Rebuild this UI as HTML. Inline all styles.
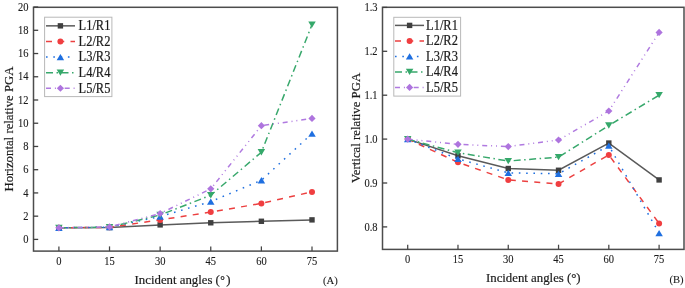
<!DOCTYPE html>
<html><head><meta charset="utf-8"><style>
html,body{margin:0;padding:0;background:#fff;}
svg{display:block;will-change:transform;}
text{font-family:"Liberation Serif",serif;fill:#1a1a1a;stroke:#1a1a1a;stroke-width:0.18px;}
.tk{font-size:10.5px;stroke-width:0.1px;}
.tk2{font-size:10.6px;stroke-width:0.1px;}
.lg{font-size:12.45px;}
.tt{font-size:12.8px;}
</style></head><body>
<svg width="685" height="288" viewBox="0 0 685 288">
<rect x="33.5" y="7.3" width="303.9" height="243.79999999999998" fill="none" stroke="#4c4c4c" stroke-width="1.5"/>
<line x1="58.90" y1="251.1" x2="58.90" y2="246.4" stroke="#444" stroke-width="1.25"/>
<text transform="translate(58.90,265.00) scale(1,1.1)" class="tk" text-anchor="middle">0</text>
<line x1="109.52" y1="251.1" x2="109.52" y2="246.4" stroke="#444" stroke-width="1.25"/>
<text transform="translate(109.52,265.00) scale(1,1.1)" class="tk" text-anchor="middle">15</text>
<line x1="160.14" y1="251.1" x2="160.14" y2="246.4" stroke="#444" stroke-width="1.25"/>
<text transform="translate(160.14,265.00) scale(1,1.1)" class="tk" text-anchor="middle">30</text>
<line x1="210.76" y1="251.1" x2="210.76" y2="246.4" stroke="#444" stroke-width="1.25"/>
<text transform="translate(210.76,265.00) scale(1,1.1)" class="tk" text-anchor="middle">45</text>
<line x1="261.38" y1="251.1" x2="261.38" y2="246.4" stroke="#444" stroke-width="1.25"/>
<text transform="translate(261.38,265.00) scale(1,1.1)" class="tk" text-anchor="middle">60</text>
<line x1="312.00" y1="251.1" x2="312.00" y2="246.4" stroke="#444" stroke-width="1.25"/>
<text transform="translate(312.00,265.00) scale(1,1.1)" class="tk" text-anchor="middle">75</text>
<line x1="33.5" y1="239.40" x2="38.2" y2="239.40" stroke="#404040" stroke-width="1.3"/>
<text transform="translate(28.50,243.00) scale(1,1.1)" class="tk" text-anchor="end">0</text>
<line x1="33.5" y1="216.17" x2="38.2" y2="216.17" stroke="#404040" stroke-width="1.3"/>
<text transform="translate(28.50,219.77) scale(1,1.1)" class="tk" text-anchor="end">2</text>
<line x1="33.5" y1="192.93" x2="38.2" y2="192.93" stroke="#404040" stroke-width="1.3"/>
<text transform="translate(28.50,196.53) scale(1,1.1)" class="tk" text-anchor="end">4</text>
<line x1="33.5" y1="169.70" x2="38.2" y2="169.70" stroke="#404040" stroke-width="1.3"/>
<text transform="translate(28.50,173.30) scale(1,1.1)" class="tk" text-anchor="end">6</text>
<line x1="33.5" y1="146.46" x2="38.2" y2="146.46" stroke="#404040" stroke-width="1.3"/>
<text transform="translate(28.50,150.06) scale(1,1.1)" class="tk" text-anchor="end">8</text>
<line x1="33.5" y1="123.23" x2="38.2" y2="123.23" stroke="#404040" stroke-width="1.3"/>
<text transform="translate(28.50,126.83) scale(1,1.1)" class="tk" text-anchor="end">10</text>
<line x1="33.5" y1="100.00" x2="38.2" y2="100.00" stroke="#404040" stroke-width="1.3"/>
<text transform="translate(28.50,103.60) scale(1,1.1)" class="tk" text-anchor="end">12</text>
<line x1="33.5" y1="76.76" x2="38.2" y2="76.76" stroke="#404040" stroke-width="1.3"/>
<text transform="translate(28.50,80.36) scale(1,1.1)" class="tk" text-anchor="end">14</text>
<line x1="33.5" y1="53.53" x2="38.2" y2="53.53" stroke="#404040" stroke-width="1.3"/>
<text transform="translate(28.50,57.13) scale(1,1.1)" class="tk" text-anchor="end">16</text>
<line x1="33.5" y1="30.29" x2="38.2" y2="30.29" stroke="#404040" stroke-width="1.3"/>
<text transform="translate(28.50,33.89) scale(1,1.1)" class="tk" text-anchor="end">18</text>
<line x1="33.5" y1="7.06" x2="38.2" y2="7.06" stroke="#404040" stroke-width="1.3"/>
<text transform="translate(28.50,10.66) scale(1,1.1)" class="tk" text-anchor="end">20</text>
<polyline points="58.90,227.78 109.52,227.55 160.14,224.88 210.76,222.79 261.38,221.28 312.00,219.88" fill="none" stroke="#5a5a5a" stroke-width="1.5"/>
<rect x="56.20" y="225.08" width="5.4" height="5.4" fill="#404040"/>
<rect x="106.82" y="224.85" width="5.4" height="5.4" fill="#404040"/>
<rect x="157.44" y="222.18" width="5.4" height="5.4" fill="#404040"/>
<rect x="208.06" y="220.09" width="5.4" height="5.4" fill="#404040"/>
<rect x="258.68" y="218.58" width="5.4" height="5.4" fill="#404040"/>
<rect x="309.30" y="217.18" width="5.4" height="5.4" fill="#404040"/>
<polyline points="58.90,227.78 109.52,227.32 160.14,219.88 210.76,212.10 261.38,203.39 312.00,191.89" fill="none" stroke="#ec4040" stroke-width="1.5" stroke-dasharray="6 6.25"/>
<circle cx="58.90" cy="227.78" r="3.0" fill="#f03e40"/>
<circle cx="109.52" cy="227.32" r="3.0" fill="#f03e40"/>
<circle cx="160.14" cy="219.88" r="3.0" fill="#f03e40"/>
<circle cx="210.76" cy="212.10" r="3.0" fill="#f03e40"/>
<circle cx="261.38" cy="203.39" r="3.0" fill="#f03e40"/>
<circle cx="312.00" cy="191.89" r="3.0" fill="#f03e40"/>
<polyline points="58.90,227.78 109.52,227.20 160.14,216.51 210.76,201.64 261.38,180.27 312.00,133.57" fill="none" stroke="#2070e0" stroke-width="1.5" stroke-dasharray="1.6 5.7"/>
<polygon points="58.90,224.63 62.65,230.93 55.15,230.93" fill="#1f6fe0"/>
<polygon points="109.52,224.05 113.27,230.35 105.77,230.35" fill="#1f6fe0"/>
<polygon points="160.14,213.36 163.89,219.66 156.39,219.66" fill="#1f6fe0"/>
<polygon points="210.76,198.49 214.51,204.79 207.01,204.79" fill="#1f6fe0"/>
<polygon points="261.38,177.12 265.13,183.42 257.63,183.42" fill="#1f6fe0"/>
<polygon points="312.00,130.42 315.75,136.72 308.25,136.72" fill="#1f6fe0"/>
<polyline points="58.90,227.78 109.52,227.20 160.14,215.00 210.76,195.26 261.38,152.27 312.00,24.72" fill="none" stroke="#38a86c" stroke-width="1.5" stroke-dasharray="7 3.5 1.5 3.5"/>
<polygon points="55.15,224.63 62.65,224.63 58.90,230.93" fill="#35a86a"/>
<polygon points="105.77,224.05 113.27,224.05 109.52,230.35" fill="#35a86a"/>
<polygon points="156.39,211.85 163.89,211.85 160.14,218.15" fill="#35a86a"/>
<polygon points="207.01,192.11 214.51,192.11 210.76,198.41" fill="#35a86a"/>
<polygon points="257.63,149.12 265.13,149.12 261.38,155.42" fill="#35a86a"/>
<polygon points="308.25,21.57 315.75,21.57 312.00,27.87" fill="#35a86a"/>
<polyline points="58.90,227.78 109.52,226.97 160.14,213.49 210.76,188.87 261.38,125.67 312.00,118.47" fill="none" stroke="#b07ae0" stroke-width="1.5" stroke-dasharray="5 3.9 1 3.9 1 3.9"/>
<polygon points="58.90,224.18 62.50,227.78 58.90,231.38 55.30,227.78" fill="#ae74de"/>
<polygon points="109.52,223.37 113.12,226.97 109.52,230.57 105.92,226.97" fill="#ae74de"/>
<polygon points="160.14,209.89 163.74,213.49 160.14,217.09 156.54,213.49" fill="#ae74de"/>
<polygon points="210.76,185.27 214.36,188.87 210.76,192.47 207.16,188.87" fill="#ae74de"/>
<polygon points="261.38,122.07 264.98,125.67 261.38,129.27 257.78,125.67" fill="#ae74de"/>
<polygon points="312.00,114.87 315.60,118.47 312.00,122.07 308.40,118.47" fill="#ae74de"/>
<rect x="44.6" y="17.2" width="67.30000000000001" height="79.39999999999999" fill="#fff" stroke="#b8b8b8" stroke-width="1"/>
<line x1="46" y1="25.85" x2="75" y2="25.85" stroke="#5a5a5a" stroke-width="1.5"/>
<rect x="57.70" y="23.15" width="5.4" height="5.4" fill="#404040"/>
<text transform="translate(78.60,30.15) scale(1,1.12)" class="lg">L1/R1</text>
<line x1="46" y1="41.45" x2="75" y2="41.45" stroke="#ec4040" stroke-width="1.5" stroke-dasharray="6 6.25"/>
<circle cx="60.40" cy="41.45" r="3.0" fill="#f03e40"/>
<text transform="translate(78.60,45.75) scale(1,1.12)" class="lg">L2/R2</text>
<line x1="46" y1="57.05" x2="75" y2="57.05" stroke="#2070e0" stroke-width="1.5" stroke-dasharray="1.6 5.7"/>
<polygon points="60.40,53.90 64.15,60.20 56.65,60.20" fill="#1f6fe0"/>
<text transform="translate(78.60,61.35) scale(1,1.12)" class="lg">L3/R3</text>
<line x1="46" y1="72.65" x2="75" y2="72.65" stroke="#38a86c" stroke-width="1.5" stroke-dasharray="7 3.5 1.5 3.5"/>
<polygon points="56.65,69.50 64.15,69.50 60.40,75.80" fill="#35a86a"/>
<text transform="translate(78.60,76.95) scale(1,1.12)" class="lg">L4/R4</text>
<line x1="46" y1="88.25" x2="75" y2="88.25" stroke="#b07ae0" stroke-width="1.5" stroke-dasharray="5 3.9 1 3.9 1 3.9"/>
<polygon points="60.40,84.65 64.00,88.25 60.40,91.85 56.80,88.25" fill="#ae74de"/>
<text transform="translate(78.60,92.55) scale(1,1.12)" class="lg">L5/R5</text>
<rect x="382.5" y="7.3" width="301.5" height="242.1" fill="none" stroke="#4c4c4c" stroke-width="1.5"/>
<line x1="407.70" y1="249.4" x2="407.70" y2="244.70000000000002" stroke="#444" stroke-width="1.25"/>
<text transform="translate(407.70,263.00) scale(1,1.1)" class="tk" text-anchor="middle">0</text>
<line x1="457.98" y1="249.4" x2="457.98" y2="244.70000000000002" stroke="#444" stroke-width="1.25"/>
<text transform="translate(457.98,263.00) scale(1,1.1)" class="tk" text-anchor="middle">15</text>
<line x1="508.26" y1="249.4" x2="508.26" y2="244.70000000000002" stroke="#444" stroke-width="1.25"/>
<text transform="translate(508.26,263.00) scale(1,1.1)" class="tk" text-anchor="middle">30</text>
<line x1="558.54" y1="249.4" x2="558.54" y2="244.70000000000002" stroke="#444" stroke-width="1.25"/>
<text transform="translate(558.54,263.00) scale(1,1.1)" class="tk" text-anchor="middle">45</text>
<line x1="608.82" y1="249.4" x2="608.82" y2="244.70000000000002" stroke="#444" stroke-width="1.25"/>
<text transform="translate(608.82,263.00) scale(1,1.1)" class="tk" text-anchor="middle">60</text>
<line x1="659.10" y1="249.4" x2="659.10" y2="244.70000000000002" stroke="#444" stroke-width="1.25"/>
<text transform="translate(659.10,263.00) scale(1,1.1)" class="tk" text-anchor="middle">75</text>
<line x1="382.5" y1="226.90" x2="387.2" y2="226.90" stroke="#404040" stroke-width="1.3"/>
<text transform="translate(377.50,230.50) scale(1,1.1)" class="tk" text-anchor="end">0.8</text>
<line x1="382.5" y1="183.00" x2="387.2" y2="183.00" stroke="#404040" stroke-width="1.3"/>
<text transform="translate(377.50,186.60) scale(1,1.1)" class="tk" text-anchor="end">0.9</text>
<line x1="382.5" y1="139.10" x2="387.2" y2="139.10" stroke="#404040" stroke-width="1.3"/>
<text transform="translate(377.50,142.70) scale(1,1.1)" class="tk" text-anchor="end">1.0</text>
<line x1="382.5" y1="95.20" x2="387.2" y2="95.20" stroke="#404040" stroke-width="1.3"/>
<text transform="translate(377.50,98.80) scale(1,1.1)" class="tk" text-anchor="end">1.1</text>
<line x1="382.5" y1="51.30" x2="387.2" y2="51.30" stroke="#404040" stroke-width="1.3"/>
<text transform="translate(377.50,54.90) scale(1,1.1)" class="tk" text-anchor="end">1.2</text>
<line x1="382.5" y1="7.40" x2="387.2" y2="7.40" stroke="#404040" stroke-width="1.3"/>
<text transform="translate(377.50,11.00) scale(1,1.1)" class="tk" text-anchor="end">1.3</text>
<polyline points="407.70,139.10 457.98,155.78 508.26,168.51 558.54,170.27 608.82,143.05 659.10,179.93" fill="none" stroke="#5a5a5a" stroke-width="1.5"/>
<rect x="405.00" y="136.40" width="5.4" height="5.4" fill="#404040"/>
<rect x="455.28" y="153.08" width="5.4" height="5.4" fill="#404040"/>
<rect x="505.56" y="165.81" width="5.4" height="5.4" fill="#404040"/>
<rect x="555.84" y="167.57" width="5.4" height="5.4" fill="#404040"/>
<rect x="606.12" y="140.35" width="5.4" height="5.4" fill="#404040"/>
<rect x="656.40" y="177.23" width="5.4" height="5.4" fill="#404040"/>
<polyline points="407.70,139.10 457.98,162.37 508.26,179.93 558.54,183.88 608.82,154.90 659.10,223.39" fill="none" stroke="#ec4040" stroke-width="1.5" stroke-dasharray="6 6.25"/>
<circle cx="407.70" cy="139.10" r="3.0" fill="#f03e40"/>
<circle cx="457.98" cy="162.37" r="3.0" fill="#f03e40"/>
<circle cx="508.26" cy="179.93" r="3.0" fill="#f03e40"/>
<circle cx="558.54" cy="183.88" r="3.0" fill="#f03e40"/>
<circle cx="608.82" cy="154.90" r="3.0" fill="#f03e40"/>
<circle cx="659.10" cy="223.39" r="3.0" fill="#f03e40"/>
<polyline points="407.70,139.10 457.98,158.86 508.26,172.90 558.54,173.78 608.82,145.69 659.10,233.05" fill="none" stroke="#2070e0" stroke-width="1.5" stroke-dasharray="1.6 5.7"/>
<polygon points="407.70,135.95 411.45,142.25 403.95,142.25" fill="#1f6fe0"/>
<polygon points="457.98,155.71 461.73,162.01 454.23,162.01" fill="#1f6fe0"/>
<polygon points="508.26,169.75 512.01,176.05 504.51,176.05" fill="#1f6fe0"/>
<polygon points="558.54,170.63 562.29,176.93 554.79,176.93" fill="#1f6fe0"/>
<polygon points="608.82,142.54 612.57,148.84 605.07,148.84" fill="#1f6fe0"/>
<polygon points="659.10,229.90 662.85,236.20 655.35,236.20" fill="#1f6fe0"/>
<polyline points="407.70,139.10 457.98,152.71 508.26,161.05 558.54,157.10 608.82,125.49 659.10,95.20" fill="none" stroke="#38a86c" stroke-width="1.5" stroke-dasharray="7 3.5 1.5 3.5"/>
<polygon points="403.95,135.95 411.45,135.95 407.70,142.25" fill="#35a86a"/>
<polygon points="454.23,149.56 461.73,149.56 457.98,155.86" fill="#35a86a"/>
<polygon points="504.51,157.90 512.01,157.90 508.26,164.20" fill="#35a86a"/>
<polygon points="554.79,153.95 562.29,153.95 558.54,160.25" fill="#35a86a"/>
<polygon points="605.07,122.34 612.57,122.34 608.82,128.64" fill="#35a86a"/>
<polygon points="655.35,92.05 662.85,92.05 659.10,98.35" fill="#35a86a"/>
<polyline points="407.70,139.10 457.98,144.37 508.26,146.56 558.54,139.98 608.82,111.00 659.10,32.42" fill="none" stroke="#b07ae0" stroke-width="1.5" stroke-dasharray="5 3.9 1 3.9 1 3.9"/>
<polygon points="407.70,135.50 411.30,139.10 407.70,142.70 404.10,139.10" fill="#ae74de"/>
<polygon points="457.98,140.77 461.58,144.37 457.98,147.97 454.38,144.37" fill="#ae74de"/>
<polygon points="508.26,142.96 511.86,146.56 508.26,150.16 504.66,146.56" fill="#ae74de"/>
<polygon points="558.54,136.38 562.14,139.98 558.54,143.58 554.94,139.98" fill="#ae74de"/>
<polygon points="608.82,107.40 612.42,111.00 608.82,114.60 605.22,111.00" fill="#ae74de"/>
<polygon points="659.10,28.82 662.70,32.42 659.10,36.02 655.50,32.42" fill="#ae74de"/>
<rect x="393.8" y="17.3" width="66.80000000000001" height="78.8" fill="#fff" stroke="#b8b8b8" stroke-width="1"/>
<line x1="395" y1="25.40" x2="424" y2="25.40" stroke="#5a5a5a" stroke-width="1.5"/>
<rect x="406.90" y="22.70" width="5.4" height="5.4" fill="#404040"/>
<text transform="translate(426.10,29.70) scale(1,1.12)" class="lg">L1/R1</text>
<line x1="395" y1="40.90" x2="424" y2="40.90" stroke="#ec4040" stroke-width="1.5" stroke-dasharray="6 6.25"/>
<circle cx="409.60" cy="40.90" r="3.0" fill="#f03e40"/>
<text transform="translate(426.10,45.20) scale(1,1.12)" class="lg">L2/R2</text>
<line x1="395" y1="56.40" x2="424" y2="56.40" stroke="#2070e0" stroke-width="1.5" stroke-dasharray="1.6 5.7"/>
<polygon points="409.60,53.25 413.35,59.55 405.85,59.55" fill="#1f6fe0"/>
<text transform="translate(426.10,60.70) scale(1,1.12)" class="lg">L3/R3</text>
<line x1="395" y1="71.90" x2="424" y2="71.90" stroke="#38a86c" stroke-width="1.5" stroke-dasharray="7 3.5 1.5 3.5"/>
<polygon points="405.85,68.75 413.35,68.75 409.60,75.05" fill="#35a86a"/>
<text transform="translate(426.10,76.20) scale(1,1.12)" class="lg">L4/R4</text>
<line x1="395" y1="87.40" x2="424" y2="87.40" stroke="#b07ae0" stroke-width="1.5" stroke-dasharray="5 3.9 1 3.9 1 3.9"/>
<polygon points="409.60,83.80 413.20,87.40 409.60,91.00 406.00,87.40" fill="#ae74de"/>
<text transform="translate(426.10,91.70) scale(1,1.12)" class="lg">L5/R5</text>
<text transform="translate(182.60,284.00) scale(1,1.0)" class="tt" text-anchor="middle">Incident angles (<tspan dx="0.3" font-size="11.5">°</tspan><tspan dx="1.6">)</tspan></text>
<text transform="translate(533.30,281.90) scale(1,1.0)" class="tt" text-anchor="middle">Incident angles (°)</text>
<text transform="translate(13.3,129.0) rotate(-90)" class="tt" text-anchor="middle">Horizontal relative PGA</text>
<text transform="translate(359.7,127.9) rotate(-90)" class="tt" text-anchor="middle">Vertical relative PGA</text>
<text transform="translate(337.80,283.80) scale(1,1.0)" class="tk2" text-anchor="end">(A)</text>
<text transform="translate(683.60,283.00) scale(1,1.0)" class="tk2" text-anchor="end">(B)</text>
</svg>
</body></html>
